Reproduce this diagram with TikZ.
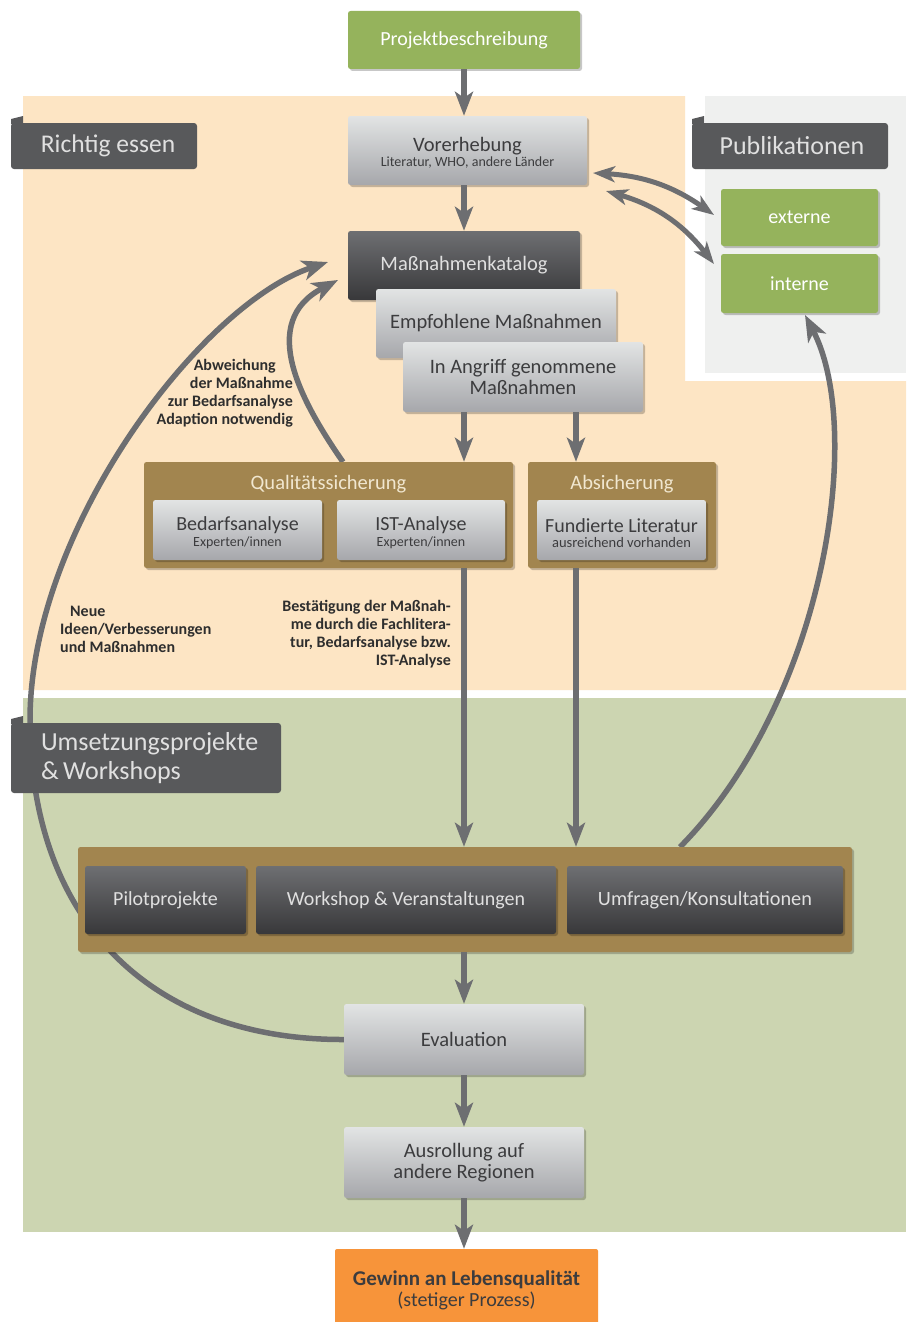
\documentclass[tikz,border=0pt]{standalone}
\usepackage{fontspec}
\setmainfont{Carlito}
\usetikzlibrary{arrows.meta,shadows}
\definecolor{peach}{HTML}{FDE5C4}
\definecolor{sage}{HTML}{CCD5B1}
\definecolor{pubgrey}{HTML}{EFF0EF}
\definecolor{tagdark}{HTML}{58595B}
\definecolor{arrowgrey}{HTML}{6D6E71}
\definecolor{leafgreen}{HTML}{95B35C}
\definecolor{brownc}{HTML}{A2854F}
\definecolor{orangec}{HTML}{F7943A}
\definecolor{lighttop}{HTML}{E2E4E4}
\definecolor{lightbot}{HTML}{A6A7AB}
\definecolor{darktop}{HTML}{6E6F72}
\definecolor{darkbot}{HTML}{38383A}
\definecolor{textdark}{HTML}{3C3C3E}
\definecolor{cream}{HTML}{F1E7D0}
\definecolor{annot}{HTML}{2E2E2E}
\begin{document}
\begin{tikzpicture}[x=1pt,y=-1pt,
  box/.style={rounded corners=2.5pt, inner sep=2pt, align=center,
    drop shadow={shadow xshift=2pt, shadow yshift=-2pt, opacity=0.22, fill=black}},
  lightbox/.style={box, top color=lighttop, bottom color=lightbot, text=textdark},
  darkbox/.style={box, top color=darktop, bottom color=darkbot, text=white!88!black},
  greenbox/.style={box, fill=leafgreen, text=white},
  brownbox/.style={box, fill=brownc},
  orangebox/.style={rounded corners=2pt, fill=orangec, text=textdark, align=center, inner sep=2pt},
  tagbox/.style={fill=tagdark, text=white!88!black, rounded corners=3pt, inner sep=0pt},
  flow/.style={line width=6pt, draw=arrowgrey, -{Stealth[length=24pt,width=18pt,inset=6pt]}},
  loop/.style={line width=5.5pt, draw=arrowgrey, -{Stealth[length=26pt,width=20pt,inset=7pt]}},
  dbl/.style={line width=5pt, draw=arrowgrey, {Stealth[length=22pt,width=16pt,inset=6pt]}-{Stealth[length=22pt,width=16pt,inset=6pt]}},
  anno/.style={font=\bfseries\fontsize{16}{18}\selectfont, text=annot, inner sep=0pt}
]
\useasboundingbox (0,0) rectangle (906,1322);
% backgrounds
\fill[white] (0,0) rectangle (906,1322);
\fill[peach] (23,96) -- (685,96) -- (685,381) -- (906,381) -- (906,690) -- (23,690) -- cycle;
\fill[pubgrey] (705,96) rectangle (906,373);
\fill[sage] (23,698) rectangle (906,1232);

% coordinates for free ends
\coordinate (c576) at (576,0);
\coordinate (qsfoot) at (343,462);
\coordinate (katin) at (338,280);
\coordinate (katin2) at (328,262);
\coordinate (barup) at (680,847);
\coordinate (intin) at (805,315);
\coordinate (v1) at (593,173);
\coordinate (v2) at (606,191);
\coordinate (e1) at (714,215);
\coordinate (i1) at (714,264);

% curved feedback arrows (behind boxes)
\node[lightbox, minimum width=240pt, minimum height=71pt, font=\fontsize{20.5}{22}\selectfont] (eval) at (464,1039.5) {Evaluation};
\draw[loop] (eval.west) .. controls (150,1040) and (30,920) .. (30,720)
  .. controls (30,530) and (200,305) .. (katin2);
\draw[loop] (qsfoot) .. controls (300,400) and (258,322) .. (katin);
\draw[loop] (barup) .. controls (825,700) and (865,430) .. (intin);

% top nodes
\node[greenbox, minimum width=232pt, minimum height=58pt, font=\fontsize{20}{22}\selectfont] (proj) at (464,40) {Projektbeschreibung};
\node[lightbox, minimum width=239pt, minimum height=69pt, font=\fontsize{20.5}{15}\selectfont] (vor) at (467.5,150.5)
  {\rule{0pt}{19pt}Vorerhebung\\{\fontsize{14}{15}\selectfont Literatur, WHO, andere Länder}};
\node[darkbox, minimum width=232pt, minimum height=69pt, font=\fontsize{20.5}{22}\selectfont] (katalog) at (464,265.5) {Maßnahmenkatalog};
\node[lightbox, minimum width=240pt, minimum height=69pt, font=\fontsize{20.5}{22}\selectfont] (empf) at (496,323.5) {Empfohlene Maßnahmen};
\node[lightbox, minimum width=240pt, minimum height=70pt, font=\fontsize{20.5}{21}\selectfont] (angriff) at (523,377) {In Angriff genommene\\Maßnahmen};

% publication nodes
\node[greenbox, minimum width=157pt, minimum height=57pt, font=\fontsize{20}{22}\selectfont] (externe) at (799.5,217.5) {externe};
\node[greenbox, minimum width=157pt, minimum height=59pt, font=\fontsize{20}{22}\selectfont] (interne) at (799.5,283.5) {interne};

% quality containers
\node[brownbox, minimum width=369pt, minimum height=106pt] (qs) at (328.5,515) {};
\node[text=cream, font=\fontsize{20.5}{22}\selectfont, inner sep=0pt] (qstitle) at (328.5,484) {Qualitätssicherung};
\node[lightbox, minimum width=169pt, minimum height=60pt, font=\fontsize{20}{16}\selectfont] (bedarf) at (237.5,530)
  {\rule{0pt}{20pt}Bedarfsanalyse\\{\fontsize{14}{15}\selectfont Experten/innen}};
\node[lightbox, minimum width=168pt, minimum height=60pt, font=\fontsize{20}{16}\selectfont] (ist) at (421,530)
  {\rule{0pt}{20pt}IST-Analyse\\{\fontsize{14}{15}\selectfont Experten/innen}};
\node[brownbox, minimum width=188pt, minimum height=106pt] (abs) at (622,515) {};
\node[text=cream, font=\fontsize{20.5}{22}\selectfont, inner sep=0pt] (abstitle) at (622,484) {Absicherung};
\node[lightbox, minimum width=169pt, minimum height=60pt, font=\fontsize{20}{15}\selectfont] (fund) at (621.5,530)
  {\rule{0pt}{20pt}Fundierte Literatur\\{\fontsize{14.5}{15}\selectfont ausreichend vorhanden}};

% implementation bar
\node[brownbox, minimum width=774pt, minimum height=105pt] (bar) at (465,899.5) {};
\node[darkbox, minimum width=161pt, minimum height=68pt, font=\fontsize{20}{22}\selectfont] (pilot) at (165.5,900) {Pilotprojekte};
\node[darkbox, minimum width=300pt, minimum height=68pt, font=\fontsize{20}{22}\selectfont] (workshop) at (406,900) {Workshop \& Veranstaltungen};
\node[darkbox, minimum width=276pt, minimum height=68pt, font=\fontsize{20.3}{22}\selectfont] (umfragen) at (705,900) {Umfragen/Konsultationen};

% lower nodes
\node[lightbox, minimum width=240pt, minimum height=71pt, font=\fontsize{20.5}{21}\selectfont] (ausroll) at (464,1162.5) {Ausrollung auf\\andere Regionen};
\node[orangebox, minimum width=263pt, minimum height=82pt, font=\fontsize{20}{21}\selectfont] (gewinn) at (466.5,1290)
  {{\bfseries\fontsize{21}{21}\selectfont Gewinn an Lebensqualität}\\(stetiger Prozess)};

% straight flow arrows
\draw[flow] (proj.south) -- (vor.north -| proj.south);
\draw[flow] (vor.south -| katalog.north) -- (katalog.north);
\draw[flow] (angriff.south -| katalog.south) -- (qs.north -| katalog.south);
\draw[flow] (angriff.south -| c576) -- (abs.north -| c576);
\draw[flow] (qs.south -| katalog.south) -- (bar.north -| katalog.south);
\draw[flow] (abs.south -| c576) -- (bar.north -| c576);
\draw[flow] (bar.south -| eval.north) -- (eval.north);
\draw[flow] (eval.south) -- (ausroll.north);
\draw[flow] (ausroll.south) -- (gewinn.north -| ausroll.south);

% publication double arrows
\draw[dbl] (v1) to[bend left=16] (e1);
\draw[dbl] (v2) to[bend left=18] (i1);

% section tags
\fill[tagdark] (11,124) -- (11,119) -- (23,116) -- (23,124) -- cycle;
\node[tagbox, minimum width=186pt, minimum height=46pt, font=\fontsize{25.5}{28}\selectfont] (richtig) at (104,146) {\hspace*{8pt}Richtig essen};
\fill[tagdark] (692,124) -- (692,119) -- (704,116) -- (704,124) -- cycle;
\node[tagbox, minimum width=196pt, minimum height=46pt, font=\fontsize{26}{28}\selectfont] (publ) at (790,146) {\hspace*{4pt}Publikationen};
\fill[tagdark] (11,724) -- (11,719) -- (23,716) -- (23,724) -- cycle;
\node[tagbox, minimum width=270pt, minimum height=70pt, text width=210pt, align=left, font=\fontsize{26}{29}\selectfont] (umsetz) at (146,758) {Umsetzungsprojekte\\\&\,Workshops};

% annotations
\node[anno, align=right, anchor=north east] (abw) at (293,359)
  {Abweichung\hspace*{17pt}\\der Maßnahme\hspace*{16pt}\\zur Bedarfsanalyse\hspace*{8pt}\\Adaption notwendig};
\node[anno, align=left, anchor=north west] (neue) at (60,606)
  {\hspace*{10pt}Neue\\Ideen/Verbesserungen\\und Maßnahmen};
\node[anno, align=right, anchor=north east] (best) at (451,600)
  {Bestätigung der Maßnah-\\me durch die Fachlitera-\\tur, Bedarfsanalyse bzw.\\IST-Analyse};
\end{tikzpicture}
\end{document}
